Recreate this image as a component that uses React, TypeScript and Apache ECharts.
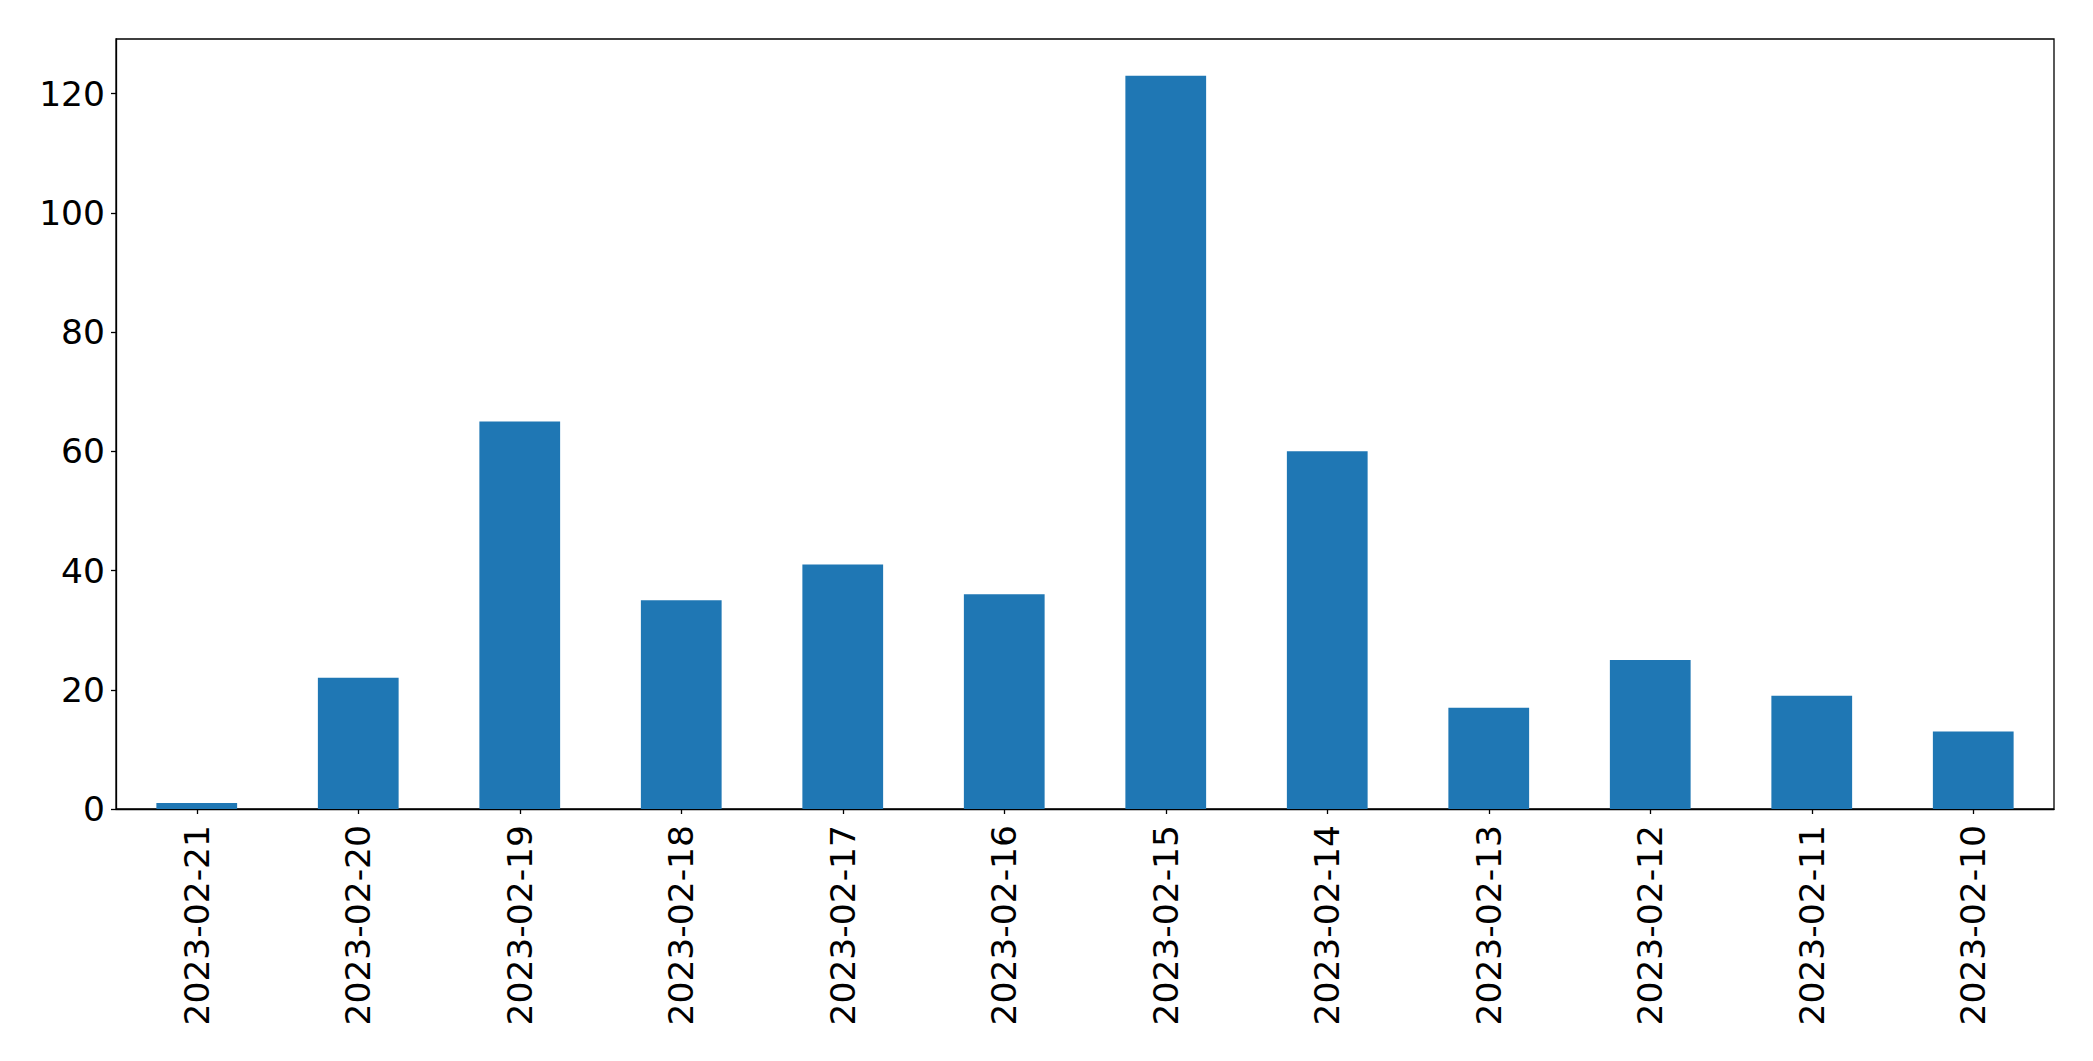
import React, { useEffect, useRef } from "react";
import * as echarts from "echarts";

const categories = [
  "2023-02-21", "2023-02-20", "2023-02-19", "2023-02-18", "2023-02-17", "2023-02-16",
  "2023-02-15", "2023-02-14", "2023-02-13", "2023-02-12", "2023-02-11", "2023-02-10",
];
const counts = [1, 22, 65, 35, 41, 36, 123, 60, 17, 25, 19, 13];
const yTicks = [0, 20, 40, 60, 80, 100, 120];
const yMax = 129.15;

export default function App() {
  const ref = useRef<HTMLDivElement>(null);
  useEffect(() => {
    if (!ref.current) return;
    const chart = echarts.init(ref.current, undefined, { renderer: "svg" });
    const font = "DejaVu Sans";
    chart.setOption({
      animation: false,
      backgroundColor: "#ffffff",
      grid: {
        left: 116,
        top: 39,
        right: 39,
        bottom: 252,
        show: true,
        borderColor: "#000000",
        borderWidth: 1.3,
        backgroundColor: "transparent",
      },
      xAxis: {
        type: "category",
        data: categories,
        boundaryGap: true,
        axisLine: { show: true, lineStyle: { color: "#000000", width: 1.3 } },
        axisTick: { show: true, alignWithLabel: true, length: 5, lineStyle: { color: "#000000", width: 1.3 } },
        axisLabel: {
          rotate: 90,
          margin: 16,
          color: "#000000",
          fontFamily: font,
          fontSize: 34.5,
          interval: 0,
        },
        splitLine: { show: false },
      },
      yAxis: {
        type: "value",
        min: 0,
        max: yMax,
        interval: 20,
        axisLine: { show: true, lineStyle: { color: "#000000", width: 1.3 } },
        axisTick: { show: true, length: 5, customValues: yTicks, lineStyle: { color: "#000000", width: 1.3 } },
        axisLabel: {
          margin: 11,
          color: "#000000",
          fontFamily: font,
          fontSize: 34.5,
          customValues: yTicks,
        },
        splitLine: { show: false },
      },
      series: [
        {
          type: "bar",
          data: counts,
          barWidth: "50%",
          itemStyle: { color: "#1f77b4" },
        },
      ],
    });
    return () => chart.dispose();
  }, []);
  return (
    <div
      ref={ref}
      style={{ position: "fixed", left: 0, top: 0, width: 2093, height: 1061, background: "#ffffff" }}
    />
  );
}
